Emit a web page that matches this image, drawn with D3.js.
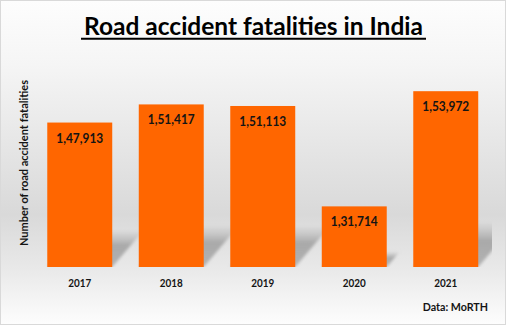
<!DOCTYPE html>
<html><head><meta charset="utf-8">
<script src="https://cdn.jsdelivr.net/npm/d3@7"></script>
<style>html,body{margin:0;padding:0;background:#fff;}svg{display:block;}</style>
</head><body>
<svg id="c" width="506" height="325"></svg>
<script>
const years = ["2017","2018","2019","2020","2021"];
const fatalities = [147913, 151417, 151113, 131714, 153972];
const valueLabels = ["1,47,913","1,51,417","1,51,113","1,31,714","1,53,972"];
const yDomain = [120000, 160000];
const titleText = "Road accident fatalities in India";
const yTitle = "Number of road accident fatalities";
const sourceText = "Data: MoRTH";

const W = 506, H = 325;
const FONT = "Lato, 'DejaVu Sans', sans-serif";
const svg = d3.select("#c");
const defs = svg.append("defs");

const bg = defs.append("linearGradient").attr("id","bg").attr("x1",0).attr("y1",0).attr("x2",0).attr("y2",1);
[[0,"#fdfdfd"],[0.2,"#f5f5f5"],[0.66,"#d9d9d9"],[0.83,"#e9e9e9"],[1,"#fdfdfd"]].forEach(([o,c])=>bg.append("stop").attr("offset",o).attr("stop-color",c));

const sh = defs.append("linearGradient").attr("id","sh").attr("x1",0).attr("y1",1).attr("x2",0).attr("y2",0);
[[0,"#a9a9a9",0.85],[0.6,"#a9a9a9",1],[1,"#b5b5b5",0.1]].forEach(([o,c,a])=>sh.append("stop").attr("offset",o).attr("stop-color",c).attr("stop-opacity",a));
defs.append("filter").attr("id","blur").attr("x","-30%").attr("y","-30%").attr("width","160%").attr("height","160%")
  .append("feGaussianBlur").attr("stdDeviation",1.8);
defs.append("clipPath").attr("id","plotclip").append("rect").attr("x",34).attr("y",55).attr("width",458).attr("height",212);

svg.append("rect").attr("x",0.5).attr("y",0.5).attr("width",W-1).attr("height",H-1)
  .attr("fill","url(#bg)").attr("stroke","#d9d9d9");

const x = d3.scaleBand().domain(years).range([34, 491.5]).paddingInner(0.29).paddingOuter(0.145);
const y = d3.scaleLinear().domain(yDomain).range([267, 60]);

const data = years.map((yr,i)=>({yr, v:fatalities[i], lab:valueLabels[i]}));

// perspective shadows
const sg = svg.append("g").attr("clip-path","url(#plotclip)");
sg.selectAll("path").data(data).join("path")
  .attr("d", d=>{
    const x0 = x(d.yr), x1 = x0 + x.bandwidth(), b = y(yDomain[0]);
    const h = (b - y(d.v)) * 0.25, dx = h * 0.85;
    return `M${x0},${b}L${x1},${b}L${x1+dx},${b-h}L${x0+dx},${b-h}Z`;
  })
  .attr("fill","url(#sh)").attr("filter","url(#blur)");

svg.append("g").selectAll("rect").data(data).join("rect")
  .attr("x", d=>x(d.yr)).attr("width", x.bandwidth())
  .attr("y", d=>y(d.v)).attr("height", d=>y(yDomain[0]) - y(d.v))
  .attr("fill","#ff6600");

// size text by cap height, then compress horizontally to the target width (Calibri-like)
function fitBox(sel, targetW, anchorX){
  sel.each(function(){
    const w = this.getComputedTextLength();
    if (w <= 0) return;
    const s = Math.min(1, targetW / w);
    const ax = anchorX != null ? anchorX : +this.getAttribute("x");
    const prev = this.getAttribute("transform") || "";
    this.setAttribute("transform", `${prev} translate(${ax},0) scale(${s.toFixed(3)},1) translate(${-ax},0)`);
  });
}

svg.append("g").selectAll("text").data(data).join("text")
  .attr("x", d=>x(d.yr)+x.bandwidth()/2).attr("y", d=>y(d.v)+20)
  .attr("text-anchor","middle").attr("font-family",FONT).attr("font-weight","bold")
  .attr("font-size",13.2).attr("fill","#141414").text(d=>d.lab)
  .each(function(){ d3.select(this).call(fitBox, 47); });

const xa = svg.append("g").attr("transform","translate(0,267)")
  .call(d3.axisBottom(x).tickSize(0).tickPadding(0));
xa.select(".domain").remove();
xa.selectAll("text").attr("font-family",FONT).attr("font-weight","bold").attr("font-size",12)
  .attr("fill","#141414").attr("dy",0).attr("y",19.7).attr("x",0)
  .each(function(){ d3.select(this).call(fitBox, 23, 0); });

svg.append("text").attr("x",253.5).attr("y",35).attr("text-anchor","middle")
  .attr("font-family",FONT).attr("font-weight","bold").attr("font-size",24.5).attr("fill","#000")
  .text(titleText).call(fitBox, 345);
svg.append("line").attr("x1",81).attr("x2",426).attr("y1",38.8).attr("y2",38.8)
  .attr("stroke","#000").attr("stroke-width",2);

svg.append("text").attr("x",0).attr("y",0).attr("transform","translate(28,163) rotate(-90)").attr("text-anchor","middle")
  .attr("font-family",FONT).attr("font-weight","bold").attr("font-size",11).attr("fill","#141414")
  .text(yTitle).call(fitBox,170, 0);

svg.append("text").attr("x",488).attr("y",311).attr("text-anchor","end")
  .attr("font-family",FONT).attr("font-weight","bold").attr("font-size",12.2).attr("fill","#141414")
  .text(sourceText).call(fitBox,65.3);
</script>
</body></html>
